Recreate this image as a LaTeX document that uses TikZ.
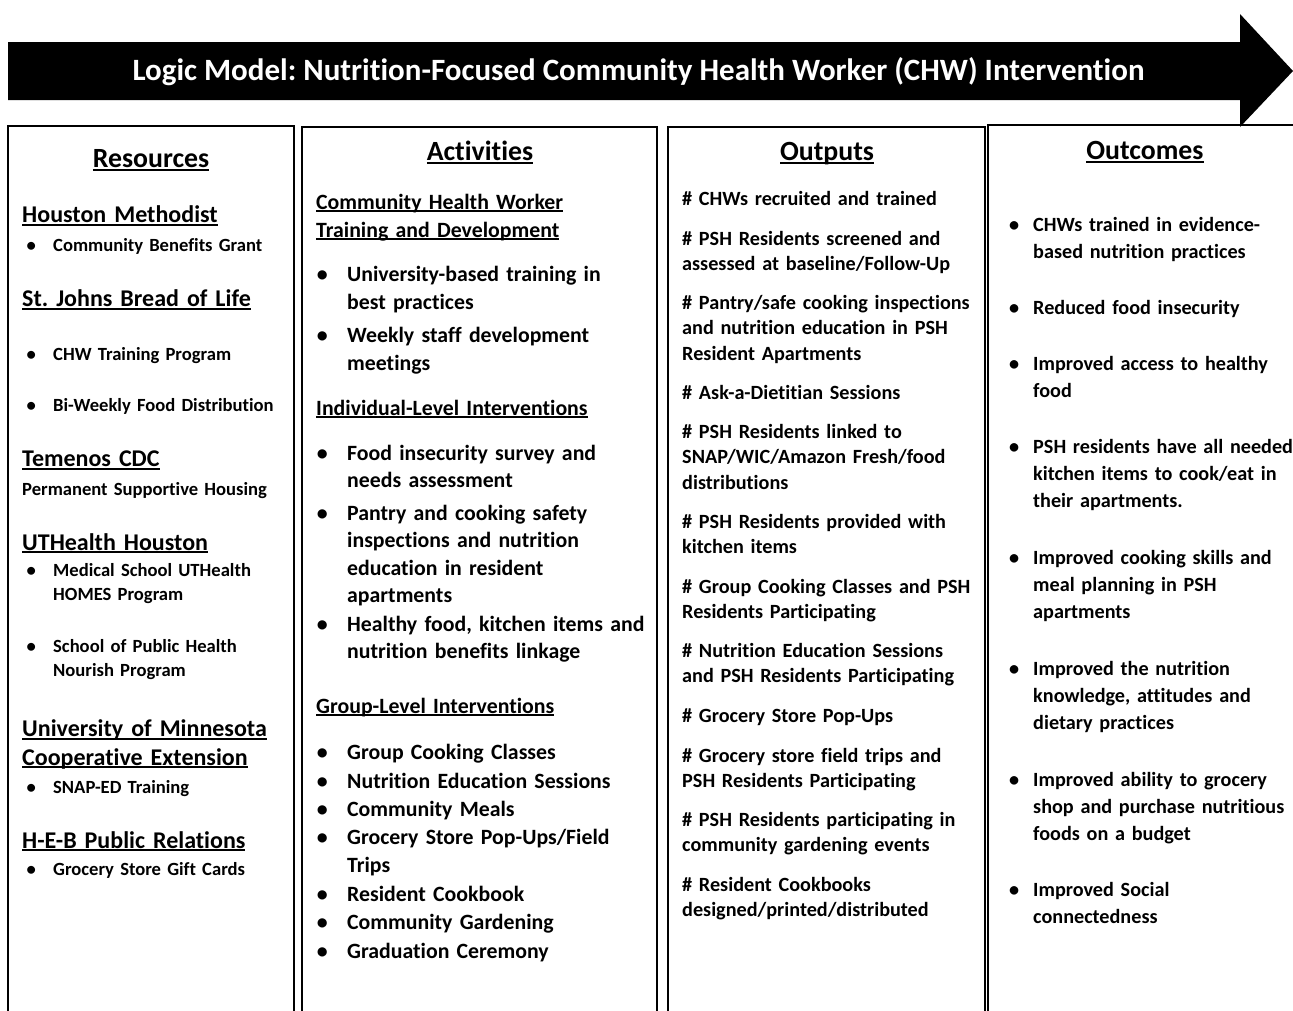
\documentclass[tikz,border=0pt]{standalone}
\usepackage{fontspec}
\setmainfont{Carlito}[Ligatures={NoCommon}]
\frenchspacing

% bullet hung to the left of the first line
\newlength{\bulgap}
\newcommand{\bul}{\leavevmode\llap{\makebox[0pt]{•}\hspace{\bulgap}}}
% underline with a fixed offset from the baseline
\newcommand{\uln}[1]{\leavevmode\setbox0\hbox{#1}\rlap{\rule[-0.12em]{\wd0}{0.07em}}\box0}

\begin{document}
\begin{tikzpicture}[x=1pt,y=-1pt]
	\tikzstyle{frame}=[line width=1.4pt];
	\tikzstyle{colhead}=[anchor=base,inner sep=0,font=\fontsize{27.8}{32}\selectfont\bfseries];
	\tikzstyle{orgname}=[anchor=base west,inner sep=0,align=left,text width=300pt,font=\fontsize{24}{28.3}\selectfont\bfseries];
	\tikzstyle{ritem}=[anchor=base west,inner sep=0,align=left,text width=300pt,font=\fontsize{18.6}{24}\selectfont\bfseries\setlength{\bulgap}{22pt}];
	\tikzstyle{subhead}=[anchor=base west,inner sep=0,align=left,text width=330pt,font=\fontsize{21.8}{28}\selectfont\bfseries];
	\tikzstyle{aitem}=[anchor=base west,inner sep=0,align=left,text width=330pt,font=\fontsize{21.8}{27.5}\selectfont\bfseries\setlength{\bulgap}{25pt}];
	\tikzstyle{oitem}=[anchor=base west,inner sep=0,align=left,text width=330pt,font=\fontsize{20.2}{25.5}\selectfont\bfseries];
	\tikzstyle{citem}=[anchor=base west,inner sep=0,align=left,text width=330pt,font=\fontsize{20.2}{27}\selectfont\bfseries\setlength{\bulgap}{19pt}];

	\useasboundingbox (0,0) rectangle (1293,1010);

	% title arrow
	\fill (8,42) -- (1240,42) -- (1240,14) -- (1293,71) -- (1240,127) -- (1240,100) -- (8,100) -- cycle;
	\node[anchor=base,inner sep=0,text=white,font=\fontsize{31}{35}\selectfont\bfseries] (title) at (638.5,80.5)
		{Logic Model: Nutrition-Focused Community Health Worker (CHW) Intervention};

	% column frames
	\draw[frame] (8,1012) -- (8,126) -- (294,126) -- (294,1012);
	\draw[frame] (302,1012) -- (302,127) -- (657,127) -- (657,1012);
	\draw[frame] (668,1012) -- (668,127) -- (985,127) -- (985,1012);
	\draw[frame] (988,1012) -- (988,125) -- (1300,125);

	\node[colhead] (res) at (151,167.5) {\uln{Resources}};
	\node[colhead] (act) at (480,160.5) {\uln{Activities}};
	\node[colhead] (out) at (827,160.5) {\uln{Outputs}};
	\node[colhead] (outc) at (1145,159.5) {\uln{Outcomes}};

	% resources
	\node[orgname] (hm) at (22,222.7) {\uln{Houston Methodist}};
	\node[ritem] (hm1) at (53,251.7) {\bul Community Benefits Grant};
	\node[orgname] (sj) at (22,306.7) {\uln{St. Johns Bread of Life}};
	\node[ritem] (sj1) at (53,360) {\bul CHW Training Program};
	\node[ritem] (sj2) at (53,411.7) {\bul Bi-Weekly Food Distribution};
	\node[orgname] (tc) at (22,466.7) {\uln{Temenos CDC}};
	\node[ritem] (tc1) at (22,495) {Permanent Supportive Housing};
	\node[orgname] (uth) at (22,550) {\uln{UTHealth Houston}};
	\node[ritem] (uth1) at (53,576.5) {\bul Medical School UTHealth\\HOMES Program};
	\node[ritem] (uth2) at (53,652.7) {\bul School of Public Health\\Nourish Program};
	\node[orgname] (umn) at (22,736.7) {\uln{University of Minnesota}\\\uln{Cooperative Extension}};
	\node[ritem] (umn1) at (53,793) {\bul SNAP-ED Training};
	\node[orgname] (heb) at (22,848) {\uln{H-E-B Public Relations}};
	\node[ritem] (heb1) at (53,875) {\bul Grocery Store Gift Cards};

	% activities
	\node[subhead] (chw) at (316,209) {\uln{Community Health Worker}\\\uln{Training and Development}};
	\node[aitem] (a1) at (347,281.5) {\bul University-based training in\\best practices};
	\node[aitem] (a2) at (347,342.5) {\bul Weekly staff development\\meetings};
	\node[subhead] (ind) at (316,415) {\uln{Individual-Level Interventions}};
	\node[aitem] (a3) at (347,460) {\bul Food insecurity survey and\\needs assessment};
	\node[aitem] (a4) at (347,520) {\bul Pantry and cooking safety\\inspections and nutrition\\education in resident\\apartments};
	\node[aitem] (a5) at (347,631) {\bul Healthy food, kitchen items and\\nutrition benefits linkage};
	\node[subhead] (grp) at (316,713) {\uln{Group-Level Interventions}};
	\node[aitem] (g1) at (347,759) {\bul Group Cooking Classes};
	\node[aitem] (g2) at (347,788) {\bul Nutrition Education Sessions};
	\node[aitem] (g3) at (347,816.5) {\bul Community Meals};
	\node[aitem] (g4) at (347,844.5) {\bul Grocery Store Pop-Ups/Field\\Trips};
	\node[aitem] (g5) at (347,901) {\bul Resident Cookbook};
	\node[aitem] (g6) at (347,929.5) {\bul Community Gardening};
	\node[aitem] (g7) at (347,958.5) {\bul Graduation Ceremony};

	% outputs
	\node[oitem] (o1) at (682,205) {\# CHWs recruited and trained};
	\node[oitem] (o2) at (682,245) {\# PSH Residents screened and\\assessed at baseline/Follow-Up};
	\node[oitem] (o3) at (682,309) {\# Pantry/safe cooking inspections\\and nutrition education in PSH\\Resident Apartments};
	\node[oitem] (o4) at (682,399) {\# Ask-a-Dietitian Sessions};
	\node[oitem] (o5) at (682,438) {\# PSH Residents linked to\\SNAP/WIC/Amazon Fresh/food\\distributions};
	\node[oitem] (o6) at (682,528) {\# PSH Residents provided with\\kitchen items};
	\node[oitem] (o7) at (682,593) {\# Group Cooking Classes and PSH\\Residents Participating};
	\node[oitem] (o8) at (682,657) {\# Nutrition Education Sessions\\and PSH Residents Participating};
	\node[oitem] (o9) at (682,722) {\# Grocery Store Pop-Ups};
	\node[oitem] (o10) at (682,762) {\# Grocery store field trips and\\PSH Residents Participating};
	\node[oitem] (o11) at (682,826) {\# PSH Residents participating in\\community gardening events};
	\node[oitem] (o12) at (682,891) {\# Resident Cookbooks\\designed/printed/distributed};

	% outcomes
	\node[citem] (c1) at (1033,231) {\bul CHWs trained in evidence-\\based nutrition practices};
	\node[citem] (c2) at (1033,314) {\bul Reduced food insecurity};
	\node[citem] (c3) at (1033,370) {\bul Improved access to healthy\\food};
	\node[citem] (c4) at (1033,453) {\bul PSH residents have all needed\\kitchen items to cook/eat in\\their apartments.};
	\node[citem] (c5) at (1033,564) {\bul Improved cooking skills and\\meal planning in PSH\\apartments};
	\node[citem] (c6) at (1033,675) {\bul Improved the nutrition\\knowledge, attitudes and\\dietary practices};
	\node[citem] (c7) at (1033,786) {\bul Improved ability to grocery\\shop and purchase nutritious\\foods on a budget};
	\node[citem] (c8) at (1033,896) {\bul Improved Social\\connectedness};

\end{tikzpicture}
\end{document}
